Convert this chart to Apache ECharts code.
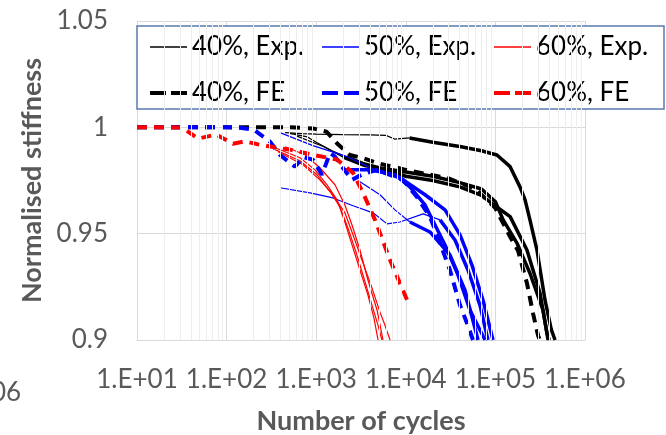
<!DOCTYPE html>
<html>
<head>
<meta charset="utf-8">
<script src="https://cdn.jsdelivr.net/npm/echarts@6/dist/echarts.min.js"></script>
<style>
html, body { margin: 0; padding: 0; background: #fff; }
#chart { width: 666px; height: 435px; }
</style>
</head>
<body>
<div id="chart"></div>
<script>
// tick positions
var xDecades = [10, 100, 1000, 10000, 100000, 1000000];
var yTicks = [0.9, 0.95, 1, 1.05];

// [cycles, normalised stiffness]
var exp40a = [[449, 0.9975], [700, 0.997], [1000, 0.9968], [2000, 0.9966], [4000, 0.9965], [6000, 0.9962], [7500, 0.9945],
  [11000, 0.995], [20000, 0.993], [40000, 0.991], [70000, 0.989], [104000, 0.987], [146000, 0.9815], [188000, 0.972],
  [214000, 0.966], [243000, 0.9565], [291000, 0.9423], [358000, 0.9187], [420000, 0.905], [463000, 0.9]];
var exp40b = [[500, 0.9972], [800, 0.9955], [1000, 0.993], [1500, 0.989], [2200, 0.986], [3300, 0.983], [5000, 0.981],
  [10000, 0.979], [20000, 0.977], [40000, 0.974], [70000, 0.971], [100000, 0.965], [122000, 0.9565], [174000, 0.9456],
  [243000, 0.9314], [340000, 0.914], [387000, 0.9]];
var exp40c = [[600, 0.996], [1200, 0.991], [2000, 0.986], [3500, 0.982], [6000, 0.98], [10000, 0.977], [20000, 0.975],
  [40000, 0.972], [70000, 0.968], [100000, 0.963], [146000, 0.958], [225000, 0.9423], [315000, 0.922], [377000, 0.903], [400000, 0.9]];
var fe40 = [[10, 1], [100, 1], [500, 1], [920, 0.9995], [1300, 0.998], [1750, 0.992], [2380, 0.987], [3330, 0.9855],
  [5000, 0.983], [10000, 0.98], [30000, 0.976], [60000, 0.971], [100000, 0.962], [146000, 0.9485], [179000, 0.942],
  [225000, 0.9267], [263000, 0.9125], [300000, 0.902], [315000, 0.9]];

var exp50a = [[394, 0.9975], [920, 0.9914], [2210, 0.9862], [4530, 0.98], [8610, 0.9763], [16400, 0.9683], [27400, 0.9612],
  [40300, 0.9494], [54800, 0.9352], [72800, 0.9187], [94000, 0.9]];
var exp50b = [[394, 0.9716], [853, 0.9692], [1540, 0.9668], [2580, 0.9631], [4310, 0.9598], [6170, 0.9546], [8610, 0.9555],
  [15600, 0.9593], [24100, 0.9565], [35400, 0.947], [49400, 0.9329], [67300, 0.9163], [82600, 0.9]];
var exp50c = [[3080, 0.9744], [5150, 0.9683], [7570, 0.9612], [11100, 0.9555], [18600, 0.9508], [31100, 0.94],
  [45800, 0.9234], [64000, 0.9]];
var exp50d = [[2090, 0.98], [3980, 0.98], [7570, 0.9777], [11100, 0.972], [16400, 0.9635], [21200, 0.9541], [27400, 0.9447],
  [38300, 0.9305], [52100, 0.914], [76600, 0.9]];
var fe50 = [[10, 1], [96, 1], [140, 0.9998], [200, 0.999], [305, 0.9933], [394, 0.987], [579, 0.9815], [713, 0.986],
  [920, 0.9848], [1160, 0.9777], [1430, 0.988], [1620, 0.9862], [1940, 0.9815], [2510, 0.9753], [3300, 0.978], [4780, 0.98],
  [9310, 0.9753], [13300, 0.9673], [18600, 0.9579], [22300, 0.9494], [31100, 0.9329], [40300, 0.9163], [48200, 0.9079], [56200, 0.9]];

var exp60a = [[347, 0.9904], [659, 0.9857], [970, 0.98], [1320, 0.973], [1710, 0.9659], [2090, 0.9555], [2510, 0.9447],
  [3080, 0.9329], [3780, 0.9211], [4420, 0.9102], [4900, 0.9]];
var exp60b = [[347, 0.9895], [659, 0.9843], [1020, 0.9777], [1430, 0.9697], [1840, 0.9626], [2260, 0.9527], [2780, 0.9414],
  [3410, 0.9291], [4200, 0.9163], [4900, 0.9069], [5420, 0.9]];
var exp60c = [[375, 0.9885], [713, 0.9824], [1100, 0.9753], [1540, 0.9683], [2090, 0.9598], [2580, 0.9494], [3240, 0.9376],
  [4200, 0.9244], [5150, 0.9131], [5860, 0.9069], [6670, 0.9]];
var exp60d = [[449, 0.9909], [750, 0.9871], [1100, 0.981], [1620, 0.973], [2090, 0.9635], [2510, 0.9541], [3080, 0.9423],
  [3780, 0.9282], [4780, 0.914], [5570, 0.9]];
var fe60 = [[10, 1], [18.5, 1], [31.8, 0.9999], [48, 0.9947], [76, 0.9966], [118, 0.9923], [160, 0.9934], [236, 0.9918],
  [365, 0.9904], [511, 0.9895], [920, 0.9871], [1710, 0.9848], [2580, 0.9786], [3330, 0.9692], [4530, 0.9565],
  [6670, 0.9376], [10600, 0.9177]];

var names = ['40%, Exp.', '50%, Exp.', '60%, Exp.', '40%, FE', '50%, FE', '60%, FE'];
var font = 'Lato, "Open Sans", sans-serif';

// minor grid lines at 2..9 of each decade
var minorLines = [];
xDecades.slice(0, -1).forEach(function (d) {
  for (var k = 2; k <= 9; k++) minorLines.push({ xAxis: d * k });
});

var series = [{
  type: 'line', name: 'minor', data: [], z: 1, silent: true,
  markLine: {
    silent: true, symbol: 'none', label: { show: false },
    lineStyle: { color: '#eeeeee', width: 1, type: 'solid' },
    data: minorLines
  }
}];

// experimental curves: thin at first, heavy (noisy) from index heavyFrom
function addExp(name, color, pts, heavyFrom) {
  if (heavyFrom > 0) {
    series.push({
      type: 'line', name: name, data: pts.slice(0, heavyFrom + 1), symbol: 'none',
      lineStyle: { color: color, width: 1.2 }, itemStyle: { color: color }
    });
  }
  if (heavyFrom < pts.length - 1) {
    series.push({
      type: 'line', name: name, data: pts.slice(heavyFrom), symbol: 'none',
      lineStyle: { color: color, width: 3.5 }, itemStyle: { color: color }
    });
  }
}
function addFe(name, color, pts) {
  series.push({
    type: 'line', name: name, data: pts, symbol: 'none', z: 3,
    lineStyle: { color: color, width: 4, type: [10, 7] }, itemStyle: { color: color }
  });
}

addExp(names[0], '#000000', exp40a, 7);
addExp(names[0], '#000000', exp40b, 4);
addExp(names[0], '#000000', exp40c, 2);
addExp(names[1], '#0000ff', exp50a, 3);
addExp(names[1], '#0000ff', exp50b, 8);
addExp(names[1], '#0000ff', exp50c, 3);
addExp(names[1], '#0000ff', exp50d, 0);
addExp(names[2], '#ff0000', exp60a, 99);
addExp(names[2], '#ff0000', exp60b, 99);
addExp(names[2], '#ff0000', exp60c, 99);
addExp(names[2], '#ff0000', exp60d, 99);
addFe(names[3], '#000000', fe40);
addFe(names[4], '#0000ff', fe50);
addFe(names[5], '#ff0000', fe60);

function legendItem(name, isFe) {
  return {
    name: name,
    itemStyle: { opacity: 0 },
    lineStyle: isFe ? { width: 4, type: [16, 5] } : { width: 1.5, type: 'solid' }
  };
}
function legendCol(left, expName, feName) {
  return {
    orient: 'vertical', left: left, top: 32, padding: 0, itemGap: 16,
    itemWidth: 37, itemHeight: 14, z: 5,
    textStyle: { fontFamily: font, fontSize: 26, color: '#000', lineHeight: 30 },
    data: [legendItem(expName, false), legendItem(feName, true)]
  };
}

var chart = echarts.init(document.getElementById('chart'));
chart.setOption({
  animation: false,
  backgroundColor: '#fff',
  grid: { left: 137, right: 81, top: 21, bottom: 95, containLabel: false, outerBoundsMode: 'none' },
  xAxis: {
    type: 'log', logBase: 10, min: xDecades[0], max: xDecades[xDecades.length - 1],
    name: 'Number of cycles', nameLocation: 'middle', nameGap: 68,
    nameTextStyle: { fontFamily: font, fontSize: 27, fontWeight: 'bold', color: '#595959' },
    axisLine: { lineStyle: { color: '#d9d9d9' } },
    axisTick: { show: false },
    splitLine: { show: true, lineStyle: { color: '#d9d9d9' } },
    axisLabel: {
      margin: 27, fontFamily: font, fontSize: 26, color: '#595959',
      formatter: function (v) { return '1.E+0' + Math.round(Math.log10(v)); }
    }
  },
  yAxis: {
    type: 'value', min: yTicks[0], max: yTicks[yTicks.length - 1], interval: 0.05,
    name: 'Normalised stiffness', nameLocation: 'middle', nameGap: 88,
    nameTextStyle: { fontFamily: font, fontSize: 27, fontWeight: 'bold', color: '#595959' },
    axisLine: { show: true, lineStyle: { color: '#d9d9d9' } },
    axisTick: { show: false },
    splitLine: { lineStyle: { color: '#d9d9d9' } },
    axisLabel: {
      margin: 29, fontFamily: font, fontSize: 26, color: '#595959',
      formatter: function (v) { return String(+v.toFixed(2)); }
    }
  },
  legend: [
    legendCol(148, names[0], names[3]),
    legendCol(320, names[1], names[4]),
    legendCol(492, names[2], names[5])
  ],
  graphic: [
    {
      type: 'rect', z: 4, silent: true,
      shape: { x: 137, y: 26, width: 527, height: 83 },
      style: { fill: '#fff', stroke: '#5a7bb0', lineWidth: 1.5 }
    },
    {
      type: 'text', z: 4, silent: true, left: -9, top: 380,
      style: { text: '06', font: '26px ' + font, fill: '#595959' }
    }
  ],
  series: series
});
</script>
</body>
</html>
